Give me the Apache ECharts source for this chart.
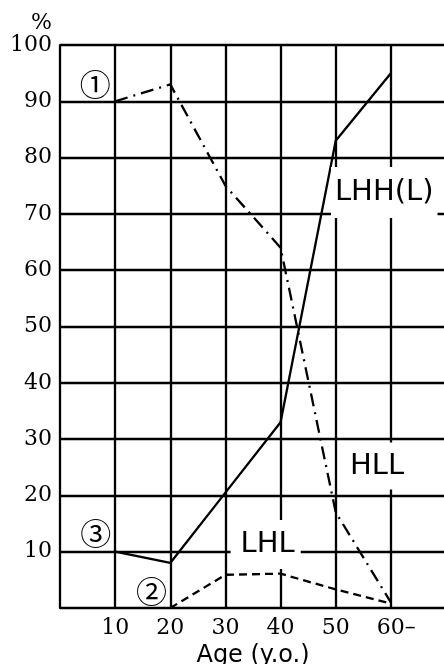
<!DOCTYPE html>
<html>
<head>
<meta charset="utf-8">
<script src="https://cdn.jsdelivr.net/npm/echarts@6/dist/echarts.min.js"></script>
<style>
html,body{margin:0;padding:0;background:#fff;}
#chart{width:444px;height:664px;}
</style>
</head>
<body>
<div id="chart"></div>
<script>
// ---- data ----
const ages = [10, 20, 30, 40, 50, 60];
const lhhValues = [10, 8, 20.5, 33, 83, 95];        // ③ solid
const hllAges = [10, 20, 30, 40, 50, 60];
const hllValues = [90, 93, 75, 64, 17, 1];          // ① dash-dot
const lhlAges = [20, 30, 40, 50, 60];
const lhlValues = [0, 5.9, 6.1, 3.3, 0.8];          // ② dashed
const xTickValues = [10, 20, 30, 40, 50, 60];
const xTickLabels = ['10', '20', '30', '40', '50', '60–'];
const yTickValues = [10, 20, 30, 40, 50, 60, 70, 80, 90, 100];
const seriesNames = ['LHH(L)', 'HLL', 'LHL'];
const markerTexts = ['①', '②', '③'];

function pairs(xs, ys) { return xs.map((x, i) => [x, ys[i]]); }

const chart = echarts.init(document.getElementById('chart'), null, {renderer: 'canvas'});
const serif = 'DejaVu Serif';
const sans = 'DejaVu Sans';

const bigLabel = {
  show: true, position: 'inside', color: '#000',
  fontFamily: sans, fontSize: 29, backgroundColor: '#fff',
  formatter: p => p.value[2]
};

chart.setOption({
  animation: false,
  backgroundColor: '#fff',
  grid: {left: 60, top: 45, width: 386, height: 563, containLabel: false, outerBoundsMode: 'none'},
  xAxis: {
    type: 'value', min: 0, max: 70, interval: 10,
    name: 'Age (y.o.)', nameLocation: 'middle', nameGap: 29,
    nameTextStyle: {fontFamily: sans, fontSize: 24, color: '#000'},
    axisLine: {show: true, lineStyle: {color: '#000', width: 2}},
    axisTick: {show: false},
    splitLine: {show: true, lineStyle: {color: '#000', width: 2.3}},
    axisLabel: {
      margin: 9, fontFamily: serif, fontSize: 22, color: '#000',
      formatter: v => {
        const i = xTickValues.indexOf(v);
        if (i < 0) return '';
        const t = xTickLabels[i];
        return t.length > 2 ? '{s|' + t + '}' : t;
      },
      rich: {s: {fontFamily: serif, fontSize: 22, color: '#000', padding: [0, 0, 0, 11]}}
    }
  },
  yAxis: {
    type: 'value', min: 0, max: 100, interval: 10,
    name: '%', nameLocation: 'end', nameGap: 11,
    nameTextStyle: {fontFamily: serif, fontSize: 22, color: '#000', align: 'right', padding: [0, 8, 0, 0]},
    axisLine: {show: true, lineStyle: {color: '#000', width: 2}},
    axisTick: {show: false},
    splitLine: {show: true, lineStyle: {color: '#000', width: 2.3}},
    axisLabel: {
      margin: 8, fontFamily: serif, fontSize: 22, color: '#000',
      formatter: v => yTickValues.indexOf(v) >= 0 ? String(v) : ''
    }
  },
  series: [
    {
      name: seriesNames[0], type: 'line', data: pairs(ages, lhhValues),
      showSymbol: false, symbol: 'none', z: 3,
      lineStyle: {color: '#000', width: 2.3, type: 'solid'}
    },
    {
      name: seriesNames[1], type: 'line', data: pairs(hllAges, hllValues),
      showSymbol: false, symbol: 'none', z: 3,
      lineStyle: {color: '#000', width: 2.3, type: [13, 6, 2, 6]}
    },
    {
      name: seriesNames[2], type: 'line', data: pairs(lhlAges, lhlValues),
      showSymbol: false, symbol: 'none', z: 3,
      lineStyle: {color: '#000', width: 2.3, type: [8, 5]}
    },
    {
      type: 'scatter', symbolSize: 0, silent: true, z: 4,
      itemStyle: {opacity: 1},
      data: [
        {value: [58.8, 73.8, seriesNames[0]], label: Object.assign({}, bigLabel, {padding: [10, 4, 12, 4]})},
        {value: [57.5, 25.2, seriesNames[1]], label: Object.assign({}, bigLabel, {padding: [9, 10, 9, 10]})},
        {value: [37.3, 11.3, seriesNames[2]], label: Object.assign({}, bigLabel, {padding: [12, 6, 8, 10]})}
      ]
    },
    {
      type: 'scatter', symbolSize: 0, silent: true, z: 4,
      itemStyle: {opacity: 1},
      label: {show: true, position: 'inside', color: '#000', fontFamily: 'Noto Sans CJK JP', fontSize: 31, formatter: p => p.value[2]},
      data: [
        [6.4, 93.0, markerTexts[0]],
        [16.6, 2.9, markerTexts[1]],
        [6.5, 13.2, markerTexts[2]]
      ]
    }
  ]
});
</script>
</body>
</html>
